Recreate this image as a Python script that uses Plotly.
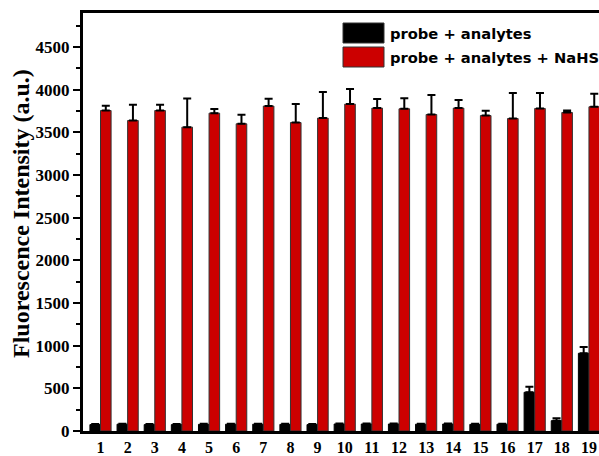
import plotly.graph_objects as go

# Sample numbers 1-19
samples = list(range(1, 20))

# Probe + analytes (black bars) and their upper error
probe_analytes = [75, 80, 75, 75, 78, 80, 80, 78, 75, 82, 82, 82, 80, 82, 78, 80, 454, 121, 911]
probe_analytes_err = [6, 6, 6, 6, 6, 6, 6, 6, 6, 6, 6, 6, 6, 6, 6, 6, 66, 28, 74]

# Probe + analytes + NaHS (red bars) and their upper error
probe_nahs = [3757, 3640, 3757, 3562, 3726, 3601, 3809, 3616, 3668, 3832,
              3785, 3777, 3710, 3785, 3698, 3663, 3781, 3734, 3801]
probe_nahs_err = [55, 185, 67, 336, 50, 105, 86, 216, 305, 176,
                  106, 125, 228, 94, 55, 298, 180, 23, 152]

legend_labels = ["probe + analytes", "probe + analytes + NaHS"]
y_title = "Fluorescence Intensity (a.u.)"

W, H = 599, 456
L, R, T, B = 83, 0, 13, 25
RED = "#cc0000"
SERIF = "Liberation Serif, Times New Roman, serif"
SANS = "DejaVu Sans, Arial, sans-serif"

pw = W - L - R
ph = H - T - B


def px_x(x):
    return (x - L) / pw


def px_y(y):
    return (H - B - y) / ph


fig = go.Figure()
fig.add_bar(
    x=samples, y=probe_analytes, name=legend_labels[0],
    marker=dict(color="black", line=dict(color="black", width=1)),
    error_y=dict(type="data", array=probe_analytes_err, symmetric=False,
                 arrayminus=[0] * len(samples), color="black", thickness=2, width=4),
)
fig.add_bar(
    x=samples, y=probe_nahs, name=legend_labels[1],
    marker=dict(color=RED, line=dict(color="#333333", width=1)),
    error_y=dict(type="data", array=probe_nahs_err, symmetric=False,
                 arrayminus=[0] * len(samples), color="black", thickness=2, width=4),
)

# Hand-drawn legend with wide swatches
shapes = []
annotations = []
for i, (label, col) in enumerate(zip(legend_labels, ["black", RED])):
    y0 = 23 + i * 24
    shapes.append(dict(type="rect", xref="paper", yref="paper",
                       x0=px_x(343), x1=px_x(384), y0=px_y(y0 + 20), y1=px_y(y0),
                       fillcolor=col, line=dict(color="#333333", width=1)))
    annotations.append(dict(xref="paper", yref="paper", x=px_x(388), y=px_y(y0 + 10),
                            xanchor="left", yanchor="middle", showarrow=False,
                            text=label, font=dict(family=SANS, size=14.7, color="black", weight="bold")))

annotations.append(dict(xref="paper", yref="paper", x=px_x(21), y=px_y(214),
                        xanchor="center", yanchor="middle", textangle=-90, showarrow=False,
                        text=y_title, font=dict(family=SERIF, size=24, color="black", weight="bold")))

fig.update_layout(
    width=W, height=H, autosize=False,
    margin=dict(l=L, r=R, t=T, b=B, pad=0, autoexpand=False),
    paper_bgcolor="white", plot_bgcolor="white",
    barmode="group", bargap=0.22, bargroupgap=0,
    showlegend=False,
    shapes=shapes, annotations=annotations,
    font=dict(family=SERIF, color="black"),
)
fig.update_xaxes(
    range=[0.355, 19.37], tickmode="array", tickvals=samples, ticktext=[str(s) for s in samples],
    showline=True, linewidth=3, linecolor="black", mirror=True,
    ticks="", showgrid=False, zeroline=False, automargin=False,
    tickfont=dict(family=SERIF, size=16, color="black", weight="bold"),
    ticklabelstandoff=0,
)
fig.update_yaxes(
    range=[0, 4900], tickmode="linear", tick0=0, dtick=500,
    showline=True, linewidth=3, linecolor="black", mirror=False,
    ticks="outside", ticklen=7, tickwidth=2, tickcolor="black",
    minor=dict(ticks="outside", ticklen=4, tickwidth=2, tickcolor="black", dtick=250, showgrid=False),
    showgrid=False, zeroline=False, automargin=False,
    tickfont=dict(family=SERIF, size=17, color="black", weight="bold"),
)

fig.write_html("out.html")
